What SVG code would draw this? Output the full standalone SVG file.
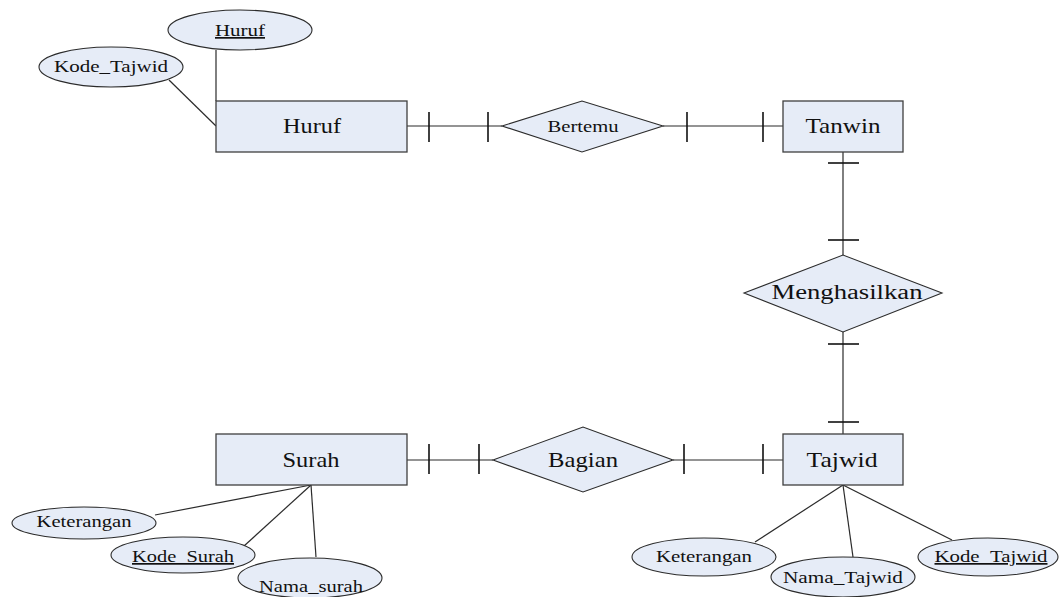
<svg xmlns="http://www.w3.org/2000/svg" width="1059" height="597" viewBox="0 0 1059 597">
  <style>
    .ent { fill: #e6ecf7; stroke: #3f3f3f; stroke-width: 1.3; }
    .rel { fill: #e6ecf7; stroke: #2b2b2b; stroke-width: 1.1; }
    .att { fill: #e6ecf7; stroke: #2b2b2b; stroke-width: 1.1; }
    .ln { stroke: #2b2b2b; stroke-width: 1.2; fill: none; }
    .tk { stroke: #111; stroke-width: 1.6; }
    text { font-family: "Liberation Serif", "Times New Roman", serif; fill: #111; }
    .et { font-size: 22px; }
    .at { font-size: 17px; }
    .key { text-decoration: underline; }
  </style>

  <g id="connectors">
    <!-- Huruf - Bertemu - Tanwin -->
    <line class="ln" x1="407" y1="126" x2="502" y2="126"/>
    <line class="tk" x1="429" y1="112" x2="429" y2="142"/>
    <line class="tk" x1="488" y1="112" x2="488" y2="142"/>
    <line class="ln" x1="663" y1="126" x2="783" y2="126"/>
    <line class="tk" x1="687" y1="112" x2="687" y2="142"/>
    <line class="tk" x1="763" y1="112" x2="763" y2="142"/>
    <!-- Tanwin - Menghasilkan - Tajwid -->
    <line class="ln" x1="843" y1="152" x2="843" y2="255"/>
    <line class="tk" x1="828" y1="163" x2="859" y2="163"/>
    <line class="tk" x1="828" y1="240" x2="859" y2="240"/>
    <line class="ln" x1="843" y1="332" x2="843" y2="434"/>
    <line class="tk" x1="828" y1="344" x2="859" y2="344"/>
    <line class="tk" x1="828" y1="422" x2="859" y2="422"/>
    <!-- Surah - Bagian - Tajwid -->
    <line class="ln" x1="407" y1="460" x2="493" y2="460"/>
    <line class="tk" x1="429" y1="444" x2="429" y2="474"/>
    <line class="tk" x1="479" y1="444" x2="479" y2="474"/>
    <line class="ln" x1="673" y1="460" x2="783" y2="460"/>
    <line class="tk" x1="684" y1="444" x2="684" y2="474"/>
    <line class="tk" x1="763" y1="444" x2="763" y2="474"/>
    <!-- attribute links -->
    <line class="ln" x1="216" y1="50" x2="216" y2="101"/>
    <line class="ln" x1="169" y1="80" x2="216" y2="126"/>
    <line class="ln" x1="155" y1="515" x2="311" y2="485"/>
    <line class="ln" x1="244" y1="546" x2="311" y2="485"/>
    <line class="ln" x1="316" y1="557" x2="311" y2="485"/>
    <line class="ln" x1="755" y1="542" x2="843" y2="485"/>
    <line class="ln" x1="853" y1="557" x2="843" y2="485"/>
    <line class="ln" x1="952" y1="540" x2="843" y2="485"/>
  </g>

  <g id="huruf">
    <rect class="ent" x="216" y="101" width="191" height="51"/>
    <text class="et" x="312" y="133" text-anchor="middle" textLength="58" lengthAdjust="spacingAndGlyphs">Huruf</text>
  </g>
  <g id="tanwin">
    <rect class="ent" x="783" y="101" width="120" height="51"/>
    <text class="et" x="843" y="133" text-anchor="middle" textLength="75" lengthAdjust="spacingAndGlyphs">Tanwin</text>
  </g>
  <g id="surah">
    <rect class="ent" x="216" y="434" width="191" height="51"/>
    <text class="et" x="311" y="467" text-anchor="middle" textLength="57" lengthAdjust="spacingAndGlyphs">Surah</text>
  </g>
  <g id="tajwid">
    <rect class="ent" x="783" y="434" width="120" height="51"/>
    <text class="et" x="842" y="467" text-anchor="middle" textLength="71" lengthAdjust="spacingAndGlyphs">Tajwid</text>
  </g>

  <g id="bertemu">
    <polygon class="rel" points="502,126 582,101 663,126 582,152"/>
    <text x="583" y="132" text-anchor="middle" font-size="17" textLength="71" lengthAdjust="spacingAndGlyphs">Bertemu</text>
  </g>
  <g id="menghasilkan">
    <polygon class="rel" points="744,293 843,255 942,293 843,332"/>
    <text x="847" y="299" text-anchor="middle" font-size="20" textLength="151" lengthAdjust="spacingAndGlyphs">Menghasilkan</text>
  </g>
  <g id="bagian">
    <polygon class="rel" points="493,460 583,427 673,460 583,492"/>
    <text x="583" y="467" text-anchor="middle" font-size="22" textLength="70" lengthAdjust="spacingAndGlyphs">Bagian</text>
  </g>

  <g id="attr-huruf">
    <ellipse class="att" cx="240" cy="30" rx="72" ry="20"/>
    <text class="at key" x="240" y="36" text-anchor="middle" textLength="50" lengthAdjust="spacingAndGlyphs">Huruf</text>
  </g>
  <g id="attr-huruf-kode-tajwid">
    <ellipse class="att" cx="111" cy="67" rx="72" ry="20"/>
    <text class="at" x="111" y="72" text-anchor="middle" textLength="114" lengthAdjust="spacingAndGlyphs">Kode_Tajwid</text>
  </g>

  <g id="attr-surah-keterangan">
    <ellipse class="att" cx="84" cy="523" rx="72" ry="16"/>
    <text class="at" x="84" y="527" text-anchor="middle" textLength="95" lengthAdjust="spacingAndGlyphs">Keterangan</text>
  </g>
  <g id="attr-kode-surah">
    <ellipse class="att" cx="183" cy="555" rx="72" ry="18"/>
    <text class="at key" x="183" y="562" text-anchor="middle" textLength="102" lengthAdjust="spacingAndGlyphs">Kode_Surah</text>
  </g>
  <g id="attr-nama-surah">
    <ellipse class="att" cx="310" cy="578" rx="72" ry="20"/>
    <text class="at" x="311" y="592" text-anchor="middle" textLength="104" lengthAdjust="spacingAndGlyphs">Nama_surah</text>
  </g>

  <g id="attr-tajwid-keterangan">
    <ellipse class="att" cx="704" cy="557" rx="72" ry="19"/>
    <text class="at" x="704" y="562" text-anchor="middle" textLength="96" lengthAdjust="spacingAndGlyphs">Keterangan</text>
  </g>
  <g id="attr-nama-tajwid">
    <ellipse class="att" cx="843" cy="577" rx="72" ry="20"/>
    <text class="at" x="843" y="583" text-anchor="middle" textLength="120" lengthAdjust="spacingAndGlyphs">Nama_Tajwid</text>
  </g>
  <g id="attr-kode-tajwid">
    <ellipse class="att" cx="988" cy="557" rx="70" ry="19"/>
    <text class="at key" x="991" y="562" text-anchor="middle" textLength="113" lengthAdjust="spacingAndGlyphs">Kode_Tajwid</text>
  </g>
</svg>
